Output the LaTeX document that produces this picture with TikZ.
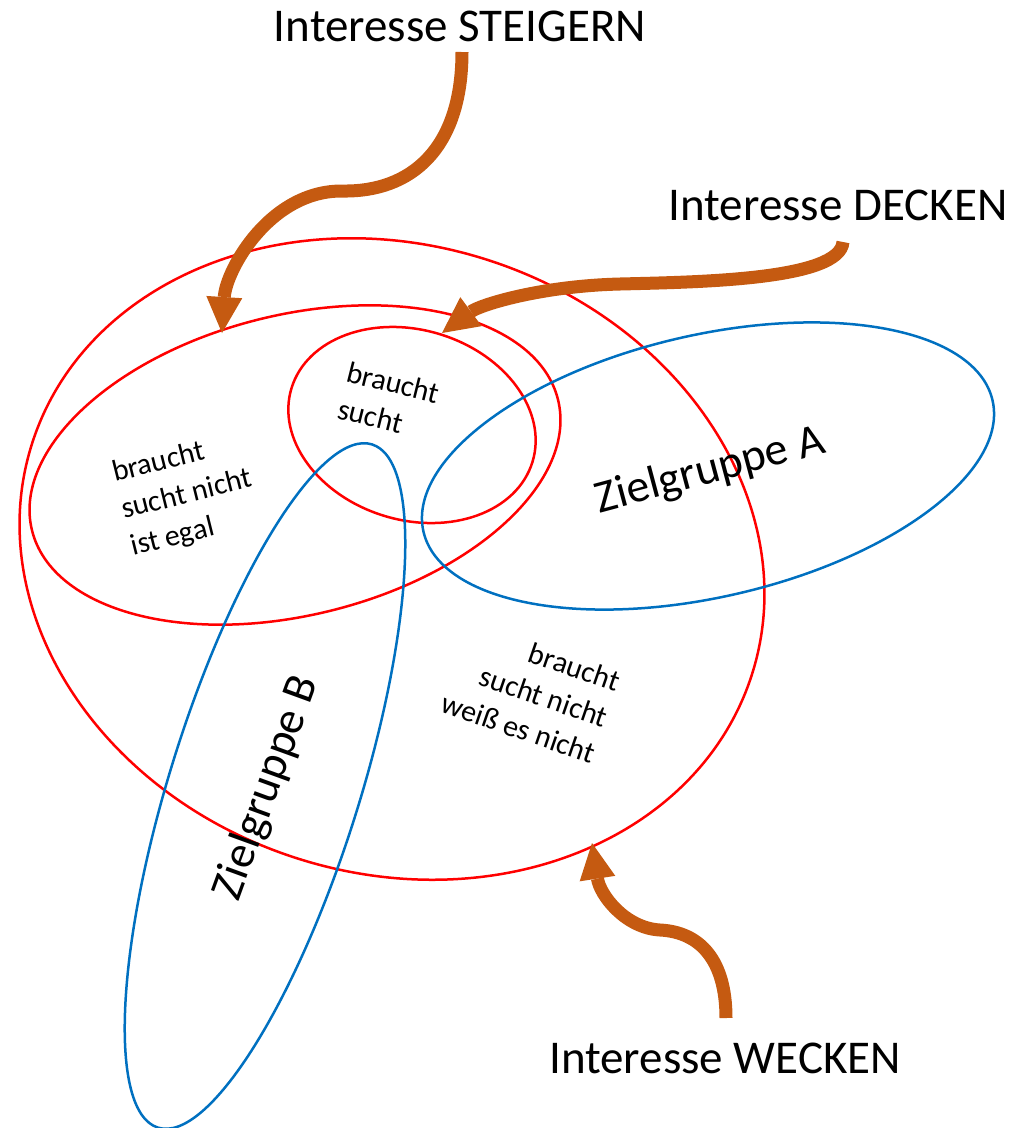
\documentclass[tikz,border=0pt]{standalone}
\usepackage{fontspec}
\setmainfont{Carlito}
\usetikzlibrary{arrows.meta}

\definecolor{linienrot}{RGB}{255,0,0}
\definecolor{linienblau}{RGB}{0,112,192}
\definecolor{pfeilbraun}{RGB}{197,90,17}

\tikzset{
	rotlinie/.style={draw=linienrot, line width=2.5pt},
	blaulinie/.style={draw=linienblau, line width=2.5pt},
	pfeil/.style={draw=pfeilbraun, line width=13pt, -{Triangle[width=36pt,length=36pt,line width=0pt]}},
	gross/.style={font=\fontsize{47}{56}\selectfont, inner sep=0pt},
	gruppe/.style={font=\fontsize{46}{54}\selectfont, inner sep=0pt},
	klein/.style={font=\fontsize{30}{38}\selectfont, inner sep=0pt},
}

\begin{document}
\begin{tikzpicture}[x=1pt,y=-1pt]
	\useasboundingbox (0,0) rectangle (1017,1128);

	% Mengen
	\draw[rotlinie, rotate around={-18:(392,559)}] (392,559) ellipse (378 and 314);
	\draw[rotlinie, rotate around={14:(295,465)}] (295,465) ellipse (271 and 150);
	\draw[rotlinie, rotate around={-17:(412,425)}] (412,425) ellipse (126 and 95);
	\draw[blaulinie, rotate around={13:(708,466)}] (708,466) ellipse (292 and 131);
	\draw[blaulinie, rotate around={72.6:(265,786)}] (265,786) ellipse (358 and 95);

	\node[gross] at (460,26) (steigern) {Interesse STEIGERN};
	\node[gross] at (838,205) (decken) {Interesse DECKEN};
	\node[gross] at (725,1058) (wecken) {Interesse WECKEN};

	\node[klein, align=left, rotate=-14] at (389,401) (innen) {braucht\\sucht};
	\node[klein, align=left, rotate=14] at (187,495) (egal) {braucht\\sucht nicht\\ist egal};
	\node[klein, align=right, rotate=-19] at (531,692) (weiss) {braucht\\sucht nicht\\weiß es nicht};
	\node[gruppe, rotate=15] at (710,471) (gruppeA) {Zielgruppe A};
	\node[gruppe, rotate=70] at (267,788) (gruppeB) {Zielgruppe B};

	% Pfeile
	\coordinate (s0) at (462,52);
	\coordinate (s1) at (222,333);
	\coordinate (d0) at (843,242);
	\coordinate (d1) at (442,333);
	\coordinate (w0) at (726,1018);
	\coordinate (w1) at (592,843);

	\draw[pfeil] (s0) .. controls (462,150) and (410,192) .. (343,191) .. controls (270,190) and (226,270) .. (s1);
	\draw[pfeil] (d0) .. controls (840,280) and (700,282) .. (620,284) .. controls (540,286) and (480,305) .. (d1);
	\draw[pfeil] (w0) .. controls (726,960) and (700,932) .. (660,930) .. controls (625,928) and (600,895) .. (w1);

\end{tikzpicture}
\end{document}
